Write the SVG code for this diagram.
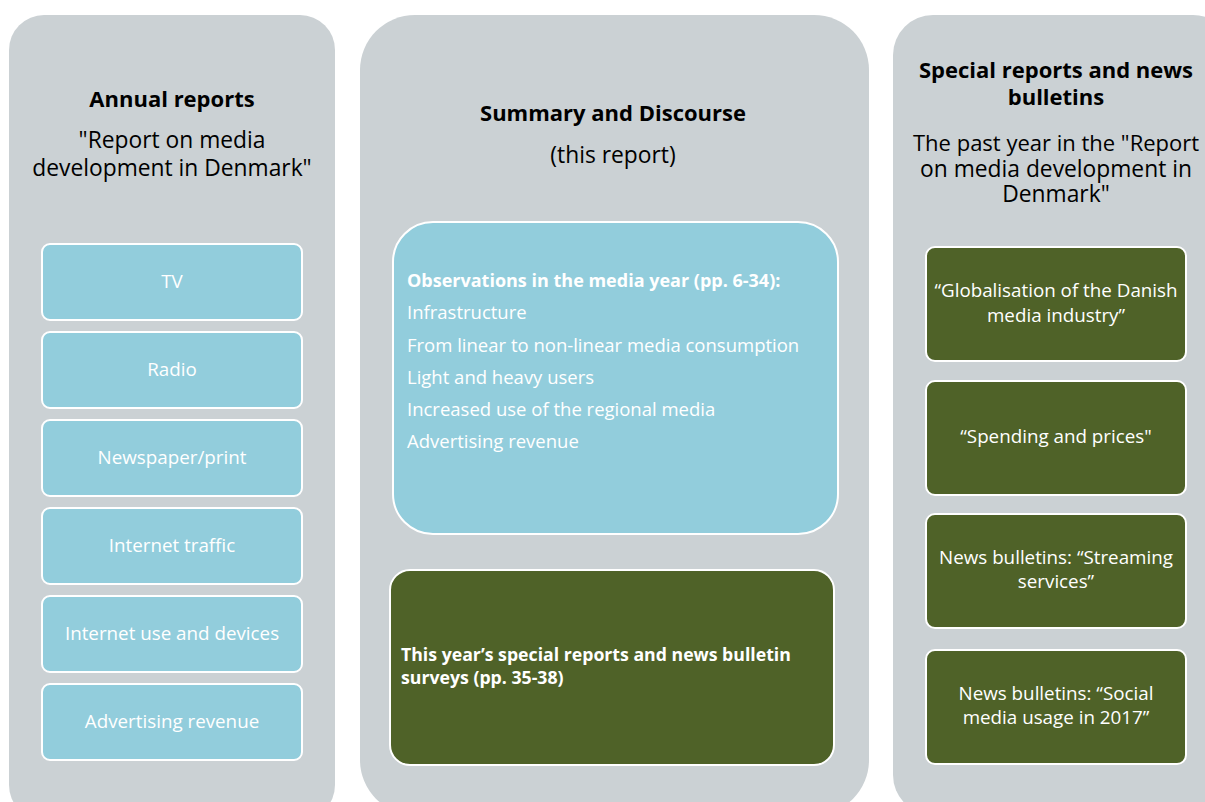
<svg xmlns="http://www.w3.org/2000/svg" width="1205" height="802" viewBox="0 0 1205 802">
<style>
text{font-family:"Open Sans","Noto Sans",sans-serif}
.panel{fill:#CBD1D4}
.cy{fill:#92CDDC;stroke:#fff;stroke-width:2}
.gr{fill:#4F6228;stroke:#fff;stroke-width:2}
.h{font-weight:bold;font-size:22px;fill:#000;text-anchor:middle}
.s{font-size:22.8px;fill:#000;text-anchor:middle}
.w{font-size:18.8px;fill:#fff;text-anchor:middle}
.wl{font-size:18.5px;fill:#fff}
.wb{font-weight:bold;font-size:17.7px;fill:#fff}
</style>
<rect width="1205" height="802" fill="#fff"/>
<g id="panel-annual">
<rect class="panel" x="9" y="15" width="326" height="805" rx="35"/>
<text class="h" x="172" y="107">Annual reports</text>
<text class="s" x="172" y="148">"Report on media</text>
<text class="s" x="172" y="176">development in Denmark"</text>
</g>
<g id="panel-summary">
<rect class="panel" x="360" y="15" width="509" height="800" rx="55"/>
<text class="h" x="613" y="121">Summary and Discourse</text>
<text class="s" x="613" y="163">(this report)</text>
</g>
<g id="panel-special">
<rect class="panel" x="893" y="15" width="340" height="800" rx="40"/>
<text class="h" x="1056" y="78">Special reports and news</text>
<text class="h" x="1056" y="105">bulletins</text>
<text class="s" x="913" y="151" style="text-anchor:start;font-size:22px">The past year in the "Report</text>
<text class="s" x="1056" y="177">on media development in</text>
<text class="s" x="1056" y="202">Denmark"</text>
</g>
<g id="box-tv"><rect class="cy" x="42" y="244" width="260" height="76" rx="8"/><text class="w" x="172" y="288">TV</text></g>
<g id="box-radio"><rect class="cy" x="42" y="332" width="260" height="76" rx="8"/><text class="w" x="172" y="376">Radio</text></g>
<g id="box-newspaper"><rect class="cy" x="42" y="420" width="260" height="76" rx="8"/><text class="w" x="172" y="464">Newspaper/print</text></g>
<g id="box-internet-traffic"><rect class="cy" x="42" y="508" width="260" height="76" rx="8"/><text class="w" x="172" y="552">Internet traffic</text></g>
<g id="box-internet-use"><rect class="cy" x="42" y="596" width="260" height="76" rx="8"/><text class="w" x="172" y="640">Internet use and devices</text></g>
<g id="box-advertising"><rect class="cy" x="42" y="684" width="260" height="76" rx="8"/><text class="w" x="172" y="728">Advertising revenue</text></g>
<g id="box-observations">
<rect class="cy" x="393" y="222" width="445" height="312" rx="40"/>
<text class="wb" x="407" y="287" style="font-size:18px">Observations in the media year (pp. 6-34):</text>
<text class="wl" x="407" y="319">Infrastructure</text>
<text class="wl" x="407" y="352">From linear to non-linear media consumption</text>
<text class="wl" x="407" y="384">Light and heavy users</text>
<text class="wl" x="407" y="416">Increased use of the regional media</text>
<text class="wl" x="407" y="448">Advertising revenue</text>
</g>
<g id="box-this-year">
<rect class="gr" x="390" y="570" width="444" height="195" rx="20"/>
<text class="wb" x="401" y="661">This year’s special reports and news bulletin</text>
<text class="wb" x="401" y="684">surveys (pp. 35-38)</text>
</g>
<g id="box-globalisation"><rect class="gr" x="926" y="247" width="260" height="114" rx="9"/><text class="w" x="1056" y="297">“Globalisation of the Danish</text><text class="w" x="1056" y="322">media industry”</text></g>
<g id="box-spending"><rect class="gr" x="926" y="381" width="260" height="114" rx="9"/><text class="w" x="1056" y="443">“Spending and prices"</text></g>
<g id="box-streaming"><rect class="gr" x="926" y="514" width="260" height="114" rx="9"/><text class="w" x="1056" y="564">News bulletins: “Streaming</text><text class="w" x="1056" y="588">services”</text></g>
<g id="box-social"><rect class="gr" x="926" y="650" width="260" height="114" rx="9"/><text class="w" x="1056" y="700">News bulletins: “Social</text><text class="w" x="1056" y="724">media usage in 2017”</text></g>
<g id="connectors"></g>
</svg>
